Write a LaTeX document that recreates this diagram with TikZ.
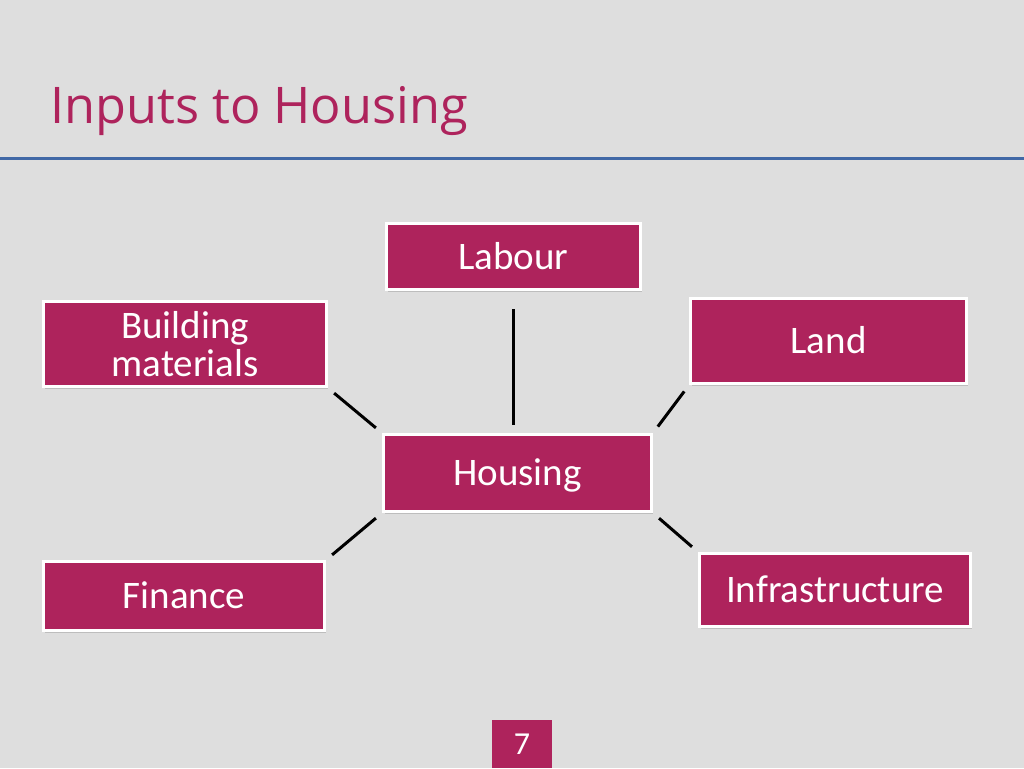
\documentclass[tikz,border=0pt]{standalone}
\usepackage{fontspec}
\setmainfont{Carlito}
\newfontfamily\titlefont{Open Sans}
\usetikzlibrary{shadows}
\definecolor{slidebg}{HTML}{DEDEDE}
\definecolor{boxred}{HTML}{AE235C}
\definecolor{rulerblue}{HTML}{4168A6}

\begin{document}
\begin{tikzpicture}[x=1pt,y=-1pt,
  inbox/.style={fill=boxred, draw=white, line width=3pt, text=white, inner sep=0pt,
    font=\fontsize{39}{38}\selectfont, align=center,
    drop shadow={opacity=0.35, shadow xshift=1.5pt, shadow yshift=-2.5pt}},
  inrow/.style={inbox, text height=25pt, text depth=0pt},
  link/.style={line width=3pt, shorten <=8pt, shorten >=8pt}]
\fill [slidebg] (0,0) rectangle (1024,768);
\useasboundingbox (0,0) rectangle (1024,768);
% title and rule
\node [anchor=base west, inner sep=0pt, text=boxred, font=\titlefont\fontsize{50.5}{60}\selectfont] (title) at (50,123) {Inputs to Housing};
\draw [rulerblue, line width=3pt] (0,158) -- (1024,158);
% inputs
\node [inrow, minimum width=254pt, minimum height=66pt] (lab) at (513.5,256.5) {Labour};
\node [inbox, minimum width=283pt, minimum height=85pt] (bm) at (185,344) {Building\\materials};
\node [inrow, minimum width=276pt, minimum height=85pt] (land) at (828.5,341) {Land};
\node [inrow, minimum width=268pt, minimum height=77pt] (hs) at (517.5,473) {Housing};
\node [inrow, minimum width=281pt, minimum height=69pt] (fin) at (184,596) {Finance};
\node [inrow, minimum width=271pt, minimum height=73pt] (infra) at (835,590) {Infrastructure};
% links
\draw [link, shorten <=18pt] (lab.south) -- (lab.south |- hs.north);
\draw [link] (bm.south east) -- (hs.north west);
\draw [link] (land.south west) -- (hs.north east);
\draw [link] (fin.north east) -- (hs.south west);
\draw [link] (infra.north west) -- (hs.south east);
% page number
\node [fill=boxred, text=white, minimum width=60pt, minimum height=48pt, inner sep=0pt, font=\fontsize{32}{32}\selectfont] (pgno) at (522,744) {7};
\end{tikzpicture}
\end{document}
